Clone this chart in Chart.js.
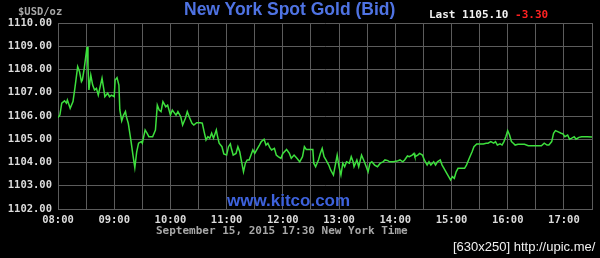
<!DOCTYPE html>
<html>
<head>
<meta charset="utf-8">
<script src="https://cdn.jsdelivr.net/npm/chart.js@4.4.0/dist/chart.umd.min.js"></script>
<style>
  body { margin: 0; background: #000; }
  #wrap { position: relative; width: 600px; height: 258px; background: #000; overflow: hidden; }
  #wrap div { position: absolute; white-space: nowrap; }
  .mono { font-family: 'DejaVu Sans Mono', monospace; font-weight: bold; font-size: 11px; }
</style>
</head>
<body>
<div id="wrap">
  <canvas id="goldChart" width="600" height="258"></canvas>
  <div class="mono" style="left:18px; top:5px; color:#a8a8a8; font-size:10.5px;">$USD/oz</div>
  <div style="left:184px; top:-1px; color:#4f73e3; font: bold 17.5px 'Liberation Sans', Arial, sans-serif;">New York Spot Gold (Bid)</div>
  <div class="mono" style="left:429px; top:8px; color:#f2f2f2;">Last 1105.10 <span style="color:#ff2222;">-3.30</span></div>
  <div style="left:227px; top:191px; color:#3d62dc; font: bold 17px 'Liberation Sans', Arial, sans-serif;">www.kitco.com</div>
  <div class="mono" style="left:156px; top:224px; color:#a8a8a8;">September 15, 2015 17:30 New York Time</div>
  <div style="left:453px; top:239px; color:#f0f0f0; font: 13px 'Liberation Sans', Arial, sans-serif;">[630x250] http://upic.me/</div>
</div>
<script>
// minutes after 08:00 New York time
const minutesAfter8 = [
  0, 2, 4, 7, 9, 10, 13, 16, 18, 21, 23, 25, 26, 28, 31, 32, 33, 35, 37, 39, 41, 43, 45, 47, 49, 50, 53, 55, 57, 60,
  61, 63, 65, 66, 68, 70, 72, 73, 75, 78, 80, 82, 84, 86, 89, 90, 93, 95, 97, 101, 104, 106, 108, 110, 112, 115, 117, 120, 122,
  126, 128, 131, 133, 136, 138, 140, 143, 145, 148, 152, 154, 156, 158, 160, 162, 164, 166, 169, 170, 172, 175, 177, 180,
  182, 184, 185, 187, 190, 192, 194, 196, 198, 200, 202, 204, 206, 208, 210, 213, 215, 217, 220, 222, 224, 226, 228, 231,
  233, 235, 238, 240, 244, 247, 249, 252,
  255, 258, 261, 263, 265, 269, 272, 273, 275, 278, 280, 282, 284, 286, 289, 291, 294, 296, 298, 300, 302, 304, 306, 308,
  311, 313, 315, 316, 319, 321, 324, 327, 329, 331, 333, 335, 338, 341, 344, 347, 349, 352, 354, 358, 362, 365, 368, 370,
  373, 375, 378, 380,
  381, 384, 386, 389, 391, 394, 396, 398, 401, 403, 405, 408, 410, 412, 415, 417, 419, 421, 423, 425, 427, 431, 434, 436,
  439, 442, 444, 447, 450, 454, 457, 459, 462, 465, 467, 469, 472, 474, 476, 478, 480, 482, 484, 486, 488, 491, 495, 498,
  502, 509, 516, 519, 522, 524, 527, 529, 531, 534, 537, 539, 541, 544, 546, 548, 551, 553, 556, 559, 565, 570
];

const bidPrices = [
  1105.93, 1106.04, 1106.55, 1106.65, 1106.55, 1106.69, 1106.33, 1106.62, 1107.19, 1108.12, 1107.90, 1107.48, 1107.55, 1108.05, 1108.98, 1108.12, 1107.12, 1107.76, 1107.33, 1107.12, 1107.19, 1106.90, 1107.26, 1107.62, 1107.12, 1106.83, 1106.98, 1106.83, 1106.90, 1106.83,
  1107.55, 1107.65, 1107.33, 1106.26, 1105.79, 1106.04, 1106.19, 1105.97, 1105.69, 1104.90, 1104.32, 1103.78, 1104.46, 1104.83, 1104.90, 1104.83, 1105.40, 1105.26, 1105.11, 1105.11, 1105.40, 1106.47, 1106.26, 1106.19, 1106.62, 1106.40, 1106.47, 1106.04, 1106.26,
  1106.04, 1106.19, 1105.97, 1105.61, 1105.90, 1106.19, 1105.97, 1105.69, 1105.61, 1105.71, 1105.71, 1105.69, 1105.32, 1104.97, 1105.11, 1105.04, 1105.26, 1105.04, 1105.40, 1105.18, 1104.83, 1104.68, 1104.37, 1104.32,
  1104.68, 1104.80, 1104.61, 1104.32, 1104.39, 1104.68, 1104.46, 1104.03, 1103.60, 1103.97, 1104.11, 1104.11, 1104.32, 1104.54, 1104.39, 1104.61, 1104.75, 1104.90, 1105.00, 1104.75, 1104.83, 1104.65, 1104.54, 1104.61,
  1104.32, 1104.25, 1104.18, 1104.39, 1104.56, 1104.39, 1104.18, 1104.32,
  1104.18, 1104.03, 1104.25, 1104.68, 1104.56, 1104.56, 1104.56, 1103.97, 1103.82, 1104.11, 1104.39, 1104.61, 1104.25, 1104.11, 1103.89, 1103.68, 1103.46, 1103.89, 1104.32, 1103.82, 1103.46, 1103.97, 1103.82, 1104.03,
  1103.97, 1104.25, 1104.03, 1103.82, 1104.11, 1103.82, 1104.32, 1104.03, 1103.82, 1103.60, 1103.97, 1104.03, 1103.89, 1103.82, 1103.97, 1104.03, 1104.11, 1104.08, 1104.03, 1104.03, 1104.06, 1104.11, 1104.03, 1104.11,
  1104.28, 1104.25, 1104.32, 1104.39,
  1104.25, 1104.32, 1104.39, 1104.32, 1104.11, 1103.89, 1104.03, 1103.89, 1104.03, 1103.89, 1104.03, 1104.11, 1103.89, 1103.75, 1103.53, 1103.39, 1103.25, 1103.39, 1103.32, 1103.60, 1103.75, 1103.75, 1103.75, 1103.89,
  1104.18, 1104.46, 1104.68, 1104.80, 1104.80, 1104.80, 1104.83, 1104.83, 1104.90, 1104.83, 1104.90, 1104.75, 1104.80, 1104.75, 1104.90, 1105.11, 1105.37, 1105.18, 1104.90, 1104.83, 1104.75, 1104.78, 1104.78, 1104.78,
  1104.72, 1104.72, 1104.72, 1104.83, 1104.75, 1104.75, 1104.90, 1105.26, 1105.37, 1105.32, 1105.26, 1105.23, 1105.11, 1105.18, 1105.00, 1105.04, 1105.11, 1105.00, 1105.08, 1105.11, 1105.11, 1105.10
];

const hourLabels = ['08:00', '09:00', '10:00', '11:00', '12:00', '13:00', '14:00', '15:00', '16:00', '17:00'];
const priceMin = 1102, priceMax = 1110;

let points = [];
for (let i = 0; i < Math.min(minutesAfter8.length, bidPrices.length); i++) {
  points.push({ x: minutesAfter8[i], y: bidPrices[i] });
}

const tickFont = { family: 'DejaVu Sans Mono', weight: 'bold', size: 10.5 };
const gridColor = '#5c5c5c';

let ctx = document.getElementById('goldChart').getContext('2d');
let goldChart = new Chart(ctx, {
  type: 'line',
  data: {
    datasets: [{
      data: points,
      borderColor: '#3ddf3d',
      borderWidth: 1.5,
      pointRadius: 0,
      tension: 0,
      fill: false
    }]
  },
  options: {
    responsive: false,
    animation: false,
    layout: { padding: { left: 0, top: 23, right: 8, bottom: 0 } },
    plugins: { legend: { display: false }, tooltip: { enabled: false } },
    scales: {
      x: {
        type: 'linear',
        min: 0,
        max: 570,
        afterFit: function(scale) { scale.height = 49; },
        grid: { color: gridColor, drawTicks: false, lineWidth: 1 },
        border: { color: gridColor },
        ticks: {
          stepSize: 30,
          autoSkip: false,
          maxRotation: 0,
          padding: 5,
          color: '#dcdcdc',
          font: tickFont,
          callback: function(value) {
            return value % 60 === 0 ? (hourLabels[value / 60] || '') : '';
          }
        }
      },
      y: {
        min: priceMin,
        max: priceMax,
        afterFit: function(scale) { scale.width = 58; },
        grid: { color: gridColor, drawTicks: false, lineWidth: 1 },
        border: { color: gridColor },
        ticks: {
          stepSize: 1,
          padding: 6,
          color: '#dcdcdc',
          font: tickFont,
          callback: function(value) { return value.toFixed(2); }
        }
      }
    }
  }
});
</script>
</body>
</html>
